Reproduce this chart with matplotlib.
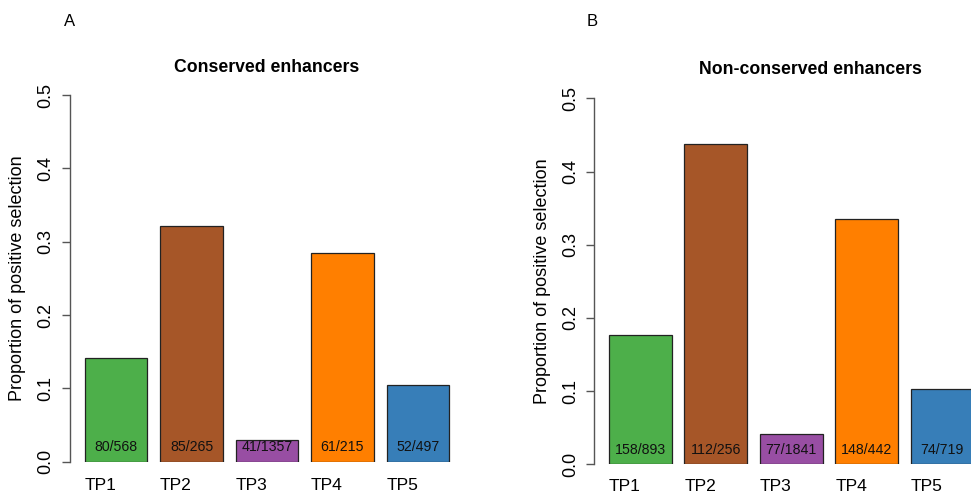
import matplotlib
matplotlib.use("Agg")
import matplotlib.pyplot as plt

plt.rcParams['font.family'] = ['Liberation Sans', 'DejaVu Sans']

categories = ["TP1", "TP2", "TP3", "TP4", "TP5"]
conserved_values = [0.141, 0.321, 0.030, 0.284, 0.105]
conserved_labels = ["80/568", "85/265", "41/1357", "61/215", "52/497"]
nonconserved_values = [0.177, 0.4375, 0.042, 0.335, 0.103]
nonconserved_labels = ["158/893", "112/256", "77/1841", "148/442", "74/719"]
colors = ["#4DAF4A", "#A65628", "#984EA3", "#FF7F00", "#377EB8"]
yticks = [0.0, 0.1, 0.2, 0.3, 0.4, 0.5]

W, H = 971, 495
fig = plt.figure(figsize=(W / 100, H / 100), dpi=100)


def panel(left_px, zero_px, top_px, values, labels, title, title_xy, letter, letter_xy, name_y):
    ax = fig.add_axes([left_px / W, (H - zero_px) / H, 394 / W, (zero_px - top_px) / H])
    centers = [0.7 + 1.2 * i for i in range(len(values))]
    ax.bar(centers, values, width=1.0, color=colors, edgecolor="#222222", linewidth=0.9)
    ax.set_xlim(-0.032, 6.232)
    ax.set_ylim(0, 0.5)
    for s in ["top", "right", "bottom"]:
        ax.spines[s].set_visible(False)
    ax.spines["left"].set_color("#555555")
    ax.spines["left"].set_linewidth(1.0)
    ax.set_xticks([])
    ax.set_yticks(yticks)
    ax.set_yticklabels([f"{t:.1f}" for t in yticks], rotation=90, va="center", fontsize=13)
    ax.tick_params(axis="y", length=6, width=1.0, color="#555555", pad=5)
    for c, v, lab, cat in zip(centers, values, labels, categories):
        ax.text(c, 0.02, lab, ha="center", va="center", fontsize=10.2, color="#111111")
        ax.text(c - 0.5, name_y, cat, ha="left", va="center", fontsize=12.6, clip_on=False)
    fig.text(left_px / W - 52 / W, 1 - ((zero_px + top_px) / 2) / H,
             "Proportion of positive selection", rotation=90, ha="center", va="center", fontsize=13)
    fig.text(title_xy[0] / W, 1 - title_xy[1] / H, title, ha="center", va="center",
             fontsize=12.7, fontweight="bold")
    fig.text(letter_xy[0] / W, 1 - letter_xy[1] / H, letter, ha="center", va="center", fontsize=12)
    return ax


panel(70, 461.7, 95, conserved_values, conserved_labels, "Conserved enhancers",
      (267, 67), "A", (70, 22), -0.032)
panel(594.3, 464.3, 98.3, nonconserved_values, nonconserved_labels, "Non-conserved enhancers",
      (810, 70), "B", (592, 21), -0.031)

fig.savefig("out.png", dpi=100)
